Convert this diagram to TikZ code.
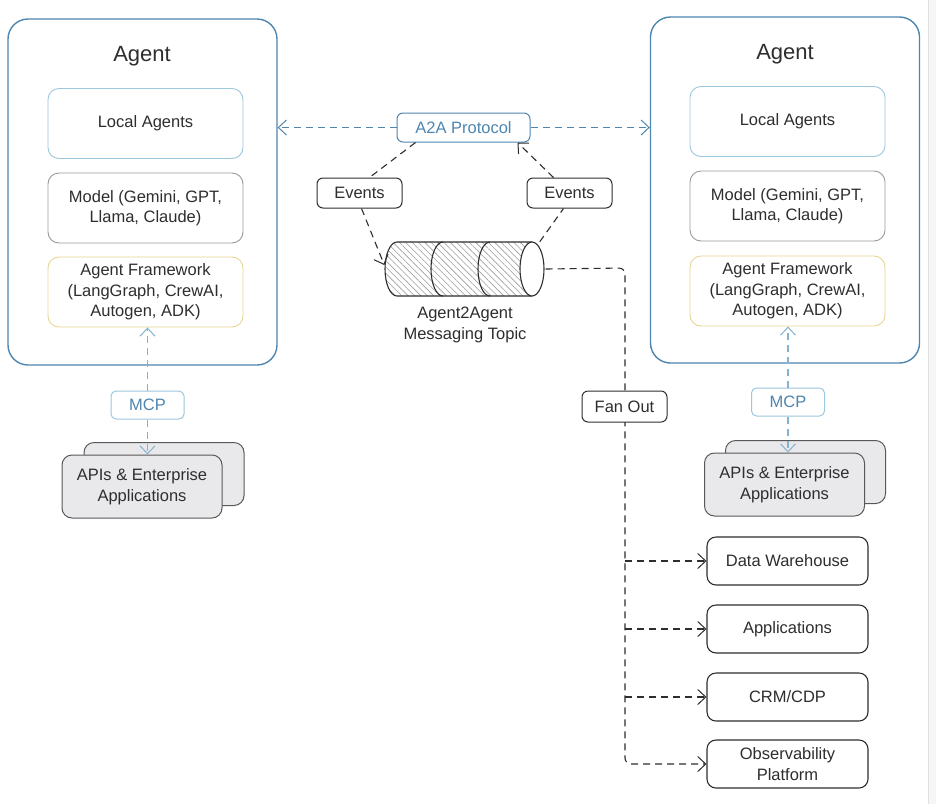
\documentclass[tikz,border=0pt]{standalone}
\usepackage{fontspec}
\setmainfont{Liberation Sans}
\usetikzlibrary{arrows.meta,patterns.meta}
\definecolor{ablue}{HTML}{4F86B0}
\definecolor{lblue}{HTML}{9CC7DD}
\definecolor{mgray}{HTML}{9A9A9A}
\definecolor{fyel}{HTML}{E8D595}
\definecolor{dgray}{HTML}{2E2E2E}
\definecolor{afill}{HTML}{E9E9EC}

\begin{document}
\begin{tikzpicture}[x=1pt,y=-1pt, >={Straight Barb[length=8pt,width=15pt,line width=1pt]},
  txt/.style={font=\fontsize{16.5}{20.5}\selectfont, align=center, text=dgray},
  agent/.style={draw=ablue, line width=1.4pt, rounded corners=20pt, minimum width=269pt, minimum height=346pt},
  inbox/.style={txt, line width=0.9pt, rounded corners=11pt, minimum width=195pt, minimum height=70pt},
  tag/.style={txt, draw=dgray, fill=white, line width=1pt, rounded corners=6pt, minimum width=85pt, minimum height=30pt},
  sink/.style={txt, draw=dgray, line width=1.1pt, rounded corners=9pt, minimum width=161pt, minimum height=48pt},
  mcp/.style={txt, text=ablue, draw=lblue, fill=white, line width=1pt, rounded corners=5pt, minimum width=73pt, minimum height=28pt},
  api/.style={txt, draw=dgray!80, fill=afill, line width=1pt, rounded corners=10pt, minimum width=160pt, minimum height=63pt},
  dline/.style={dash pattern=on 7pt off 5pt, line width=1.1pt, draw=dgray},
  bline/.style={dline, draw=ablue}]
\useasboundingbox (0,0) rectangle (936,804);
\fill[white] (0,0) rectangle (936,804);
\fill[gray!7] (928,0) rectangle (936,804);
\draw[gray!25] (928,0) -- (928,804);

% left agent
\node (al) at (142.5,192) [agent] {};
\node (alt) at (142,56) [txt, font=\fontsize{22}{26}\selectfont] {Agent};
\node (all) at (145.5,123.5) [inbox, draw=lblue] {Local Agents};
\node (alm) at (145.5,208) [inbox, draw=mgray] {Model (Gemini, GPT,\\Llama, Claude)};
\node (alf) at (145.5,292) [inbox, draw=fyel] {Agent Framework\\(LangGraph, CrewAI,\\Autogen, ADK)};

% right agent
\node (ar) at (785,190) [agent] {};
\node (art) at (785,54) [txt, font=\fontsize{22}{26}\selectfont] {Agent};
\node (arl) at (787.5,121.5) [inbox, draw=lblue] {Local Agents};
\node (arm) at (787.5,206) [inbox, draw=mgray] {Model (Gemini, GPT,\\Llama, Claude)};
\node (arf) at (787.5,291) [inbox, draw=fyel] {Agent Framework\\(LangGraph, CrewAI,\\Autogen, ADK)};

% topic
\node (topic) at (465,269) [minimum width=161pt, minimum height=54pt, inner sep=0pt] {};
\fill[pattern={Lines[angle=-45, distance=4.5pt, line width=0.6pt]}, pattern color=gray!75] (397,242) -- (532,242) -- (532,296) -- (397,296)
  arc[start angle=90, end angle=270, x radius=12, y radius=27];
\draw[line width=1.1pt, dgray] (532,242) -- (397,242) arc[start angle=-90, end angle=-270, x radius=12, y radius=27] -- (532,296);
\draw[line width=1.1pt, dgray] (443,242) arc[start angle=-90, end angle=-270, x radius=12, y radius=27];
\draw[line width=1.1pt, dgray] (490,242) arc[start angle=-90, end angle=-270, x radius=12, y radius=27];
\draw[line width=1.1pt, dgray, fill=white] (532,269) ellipse[x radius=12, y radius=27];
\node (topiclbl) at (465,325) [txt] {Agent2Agent\\Messaging Topic};

% a2a and events
\node (a2a) at (463.5,127.5) [tag, draw=ablue, text=ablue, minimum width=133pt, minimum height=29pt] {A2A Protocol};
\node (evl) at (359.5,193) [tag] {Events};
\node (evr) at (569.5,193) [tag] {Events};
\draw[bline,->] (a2a.west) -- (a2a.west -| al.east);
\draw[bline,->] (a2a.east) -- (a2a.east -| ar.west);
\draw[dline] ([xshift=-48pt]a2a.south) -- ([xshift=10pt]evl.north);
\draw[dline,->] ([xshift=2pt]evl.south) -- ([yshift=4pt]topic.west);
\draw[dline] ([xshift=-6pt]topic.north east) -- ([xshift=-6pt]evr.south);
\draw[dline,->] ([xshift=-16pt]evr.north) -- ([xshift=54pt]a2a.south);

% fan out
\node (dw) at (787.5,561) [sink] {Data Warehouse};
\node (apps) at (787.5,629) [sink] {Applications};
\node (crm) at (787.5,697) [sink] {CRM/CDP};
\node (obs) at (787.5,764) [sink] {Observability\\Platform};
\coordinate (fan) at (625,268);
\draw[dline, rounded corners=6pt, ->] (topic.east) -- (fan) -- (fan |- obs.west) -- (obs.west);
\foreach \s in {dw,apps,crm}
  \draw[dline,->] (fan |- \s.west) -- (\s.west);
\node (fo) at (624.5,406.5) [tag, minimum width=85pt, minimum height=31pt] {Fan Out};

% mcp and apis
\node (mcpl) at (147.5,405) [mcp] {MCP};
\node (apbl) at (164,474) [api] {};
\node (apl) at (142,486.5) [api] {APIs \& Enterprise\\Applications};
\draw[bline, draw=lblue!70!ablue, ->] (mcpl.north) -- (mcpl.north |- alf.south);
\draw[bline, draw=lblue!70!ablue, ->] (mcpl.south) -- (mcpl.south |- apl.north);
\node (mcpr) at (788,402) [mcp] {MCP};
\node (apbr) at (805.5,472) [api] {};
\node (apr) at (784.5,484.5) [api] {APIs \& Enterprise\\Applications};
\draw[bline, draw=lblue!70!ablue, ->] (mcpr.north) -- (mcpr.north |- arf.south);
\draw[bline, draw=lblue!70!ablue, ->] (mcpr.south) -- (mcpr.south |- apr.north);
\end{tikzpicture}
\end{document}
